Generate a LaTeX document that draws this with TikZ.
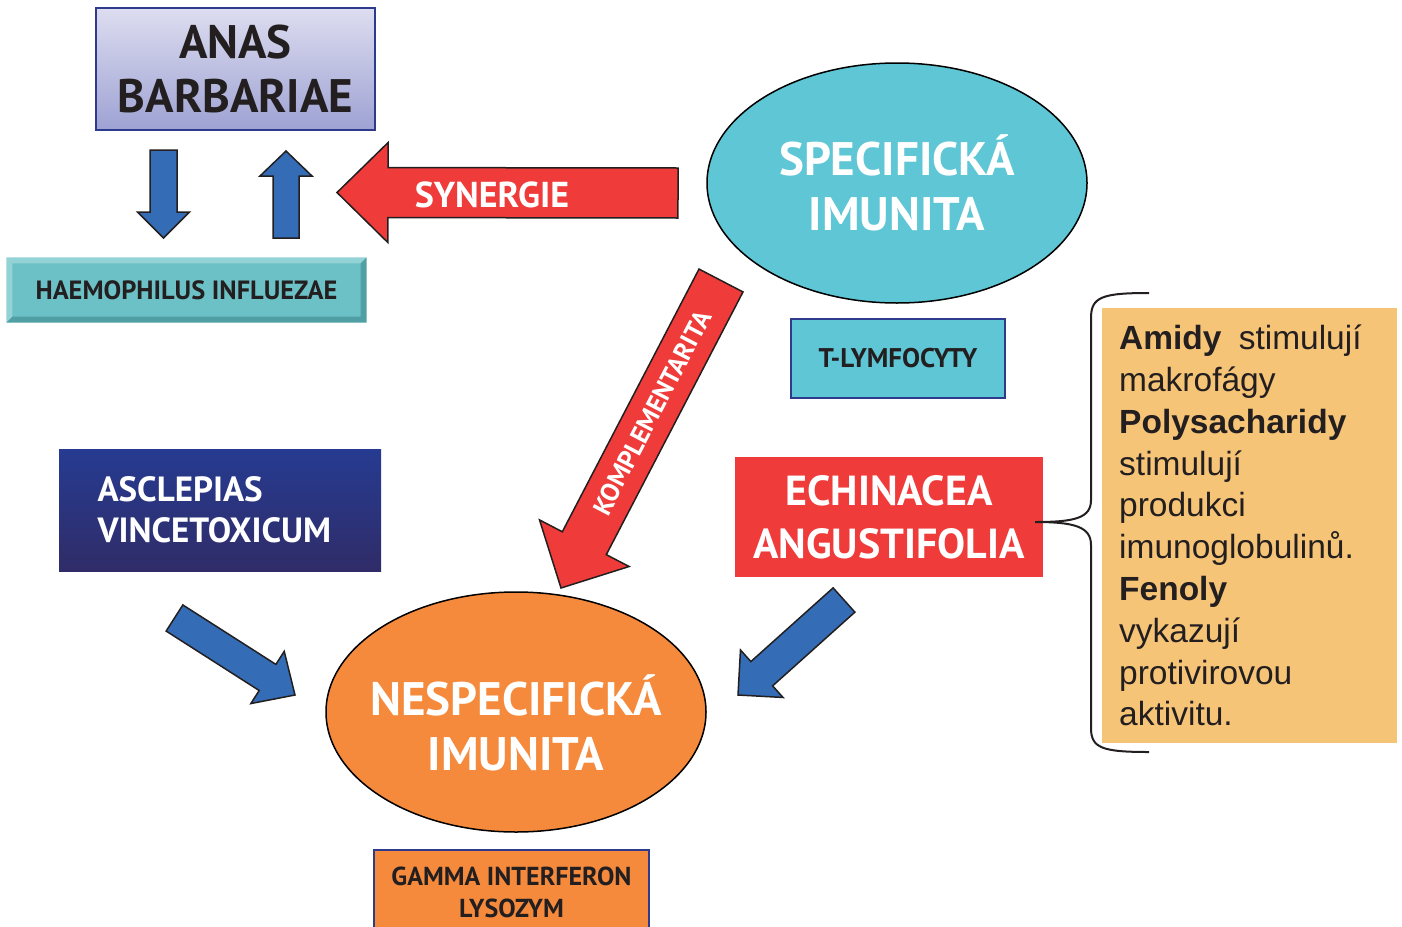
\documentclass[tikz,border=0pt]{standalone}
\usepackage{fontspec}
\setmainfont{PT Sans}
\newfontfamily\helv{Liberation Sans}
\usetikzlibrary{calc,shapes.geometric}
\definecolor{ink}{HTML}{231F20}
\definecolor{boxblue}{HTML}{2E3A8C}
\definecolor{lavtop}{HTML}{DDDDF0}
\definecolor{lavbot}{HTML}{9EA2D3}
\definecolor{haemteal}{HTML}{6CC1C6}
\definecolor{haemlight}{HTML}{93D3D6}
\definecolor{haemdark}{HTML}{4F9FA4}
\definecolor{cyanfill}{HTML}{5EC6D4}
\definecolor{redfill}{HTML}{EF3B3A}
\definecolor{orangefill}{HTML}{F58A3C}
\definecolor{paleorange}{HTML}{F6C477}
\definecolor{navytop}{HTML}{263B91}
\definecolor{navybot}{HTML}{302C68}
\definecolor{arrowblue}{HTML}{346CB5}
\tikzset{%
    plate/.style={draw=boxblue,line width=1.2pt,inner sep=0pt,align=center,text=ink},
    oval/.style={ellipse,draw=black,line width=1.5pt,inner xsep=-40pt,inner ysep=0pt,minimum width=380pt,
        minimum height=240pt,align=center,text=white,font=\bfseries\fontsize{47}{55}\selectfont},
    fatred/.style={fill=redfill,draw=ink,line width=1.5pt},
    fatblue/.style={fill=arrowblue,draw=ink,line width=1.5pt}
}
\newcommand{\fatarrow}[6]{%
    \coordinate (hb) at ($(#3)!#6!(#2)$);
    \draw[#1] ($(#2)!#4!90:(#3)$) -- ($(hb)!#4!90:(#3)$) -- ($(hb)!#5!90:(#3)$) -- (#3)
        -- ($(hb)!#5!-90:(#3)$) -- ($(hb)!#4!-90:(#3)$) -- ($(#2)!#4!-90:(#3)$) -- cycle;
}
\begin{document}
\begin{tikzpicture}[x=1pt,y=-1pt]
    \useasboundingbox (0,0) rectangle (1402,926);
    \node[plate,top color=lavtop,bottom color=lavbot,minimum width=279pt,minimum height=122pt,
        font=\bfseries\fontsize{47}{54}\selectfont] (anas) at (235.5,69) {ANAS\\BARBARIAE};
    \node[plate,fill=haemteal,draw=none,minimum width=359pt,minimum height=64pt,
        font=\bfseries\fontsize{26.4}{30}\selectfont] (haem) at (186.5,290) {HAEMOPHILUS INFLUEZAE};
    \fill[haemlight] (haem.north west) -- (haem.north east) -- ($(haem.north east)+(-6,6)$)
        -- ($(haem.north west)+(6,6)$) -- ($(haem.south west)+(6,-6)$) -- (haem.south west) -- cycle;
    \fill[haemdark] (haem.south west) -- (haem.south east) -- (haem.north east) -- ($(haem.north east)+(-6,6)$)
        -- ($(haem.south east)+(-6,-6)$) -- ($(haem.south west)+(6,-6)$) -- cycle;
    \node[oval,fill=cyanfill] (spec) at (897,183) {SPECIFICKÁ\\IMUNITA};
    \node[plate,fill=cyanfill,minimum width=214pt,minimum height=79pt,
        font=\bfseries\fontsize{27}{30}\selectfont] (tlym) at (898,358.5) {T-LYMFOCYTY};
    \node[fill=redfill,inner sep=0pt,minimum width=308pt,minimum height=120pt,align=center,text=white,
        font=\bfseries\fontsize{42}{53}\selectfont] (echi) at (889,517) {ECHINACEA\\ANGUSTIFOLIA};
    \node[top color=navytop,bottom color=navybot,inner sep=0pt,minimum width=322pt,minimum height=122pt,
        text width=245pt,align=left,text=white,font=\bfseries\fontsize{35}{41}\selectfont]
        (ascl) at (220,510) {ASCLEPIAS\\VINCETOXICUM};
    \node[oval,fill=orangefill,text height=118pt] (nesp) at (516,712) {NESPECIFICKÁ\\IMUNITA};
    \node[plate,fill=orangefill,minimum width=275pt,minimum height=84pt,
        font=\bfseries\fontsize{26}{32}\selectfont] (gamma) at (511.5,892) {GAMMA INTERFERON\\LYSOZYM};
    \node[fill=paleorange,anchor=north west,inner xsep=17pt,inner ysep=0pt,text width=261pt,
        minimum height=435pt,align=left,text=ink,font=\helv\fontsize{33.5}{41.8}\selectfont] (amid) at (1102,308)
        {\textbf{Amidy}\hspace{6pt} stimulují\\makrofágy\\\textbf{Polysacharidy}\\stimulují\\produkci\\imunoglobulinů.\\
        \textbf{Fenoly}\\vykazují\\protivirovou\\aktivitu.};

    \coordinate (downtail) at (163.5,150);
    \coordinate (downtip) at (163.5,238);
    \coordinate (uptail) at (286,238);
    \coordinate (uptip) at (286,151);
    \coordinate (syntail) at (678,193);
    \coordinate (syntip) at (337,192.5);
    \coordinate (komtail) at (721,280.5);
    \coordinate (komtip) at (561,588);
    \coordinate (asctail) at (174.5,618);
    \coordinate (asctip) at (295,695);
    \coordinate (echtail) at (844,600);
    \coordinate (echtip) at (738,695);

    \fatarrow{fatblue}{downtail}{downtip}{13.5pt}{26pt}{26pt}
    \fatarrow{fatblue}{uptail}{uptip}{13pt}{26pt}{25pt}
    \fatarrow{fatred}{syntail}{syntip}{25pt}{50pt}{51pt}
    \fatarrow{fatred}{komtail}{komtip}{24.8pt}{50.5pt}{50.5pt}
    \fatarrow{fatblue}{asctail}{asctip}{15.5pt}{31pt}{32.6pt}
    \fatarrow{fatblue}{echtail}{echtip}{16.3pt}{31.9pt}{31.9pt}

    \node[text=white,font=\bfseries\fontsize{36}{40}\selectfont] (syn) at (492,195) {SYNERGIE};
    \path (komtail) -- node[pos=0.43,sloped,text=white,font=\bfseries\fontsize{26}{30}\selectfont] (kom)
        {KOMPLEMENTARITA} (komtip);

    \coordinate (bracetip) at ($(echi.east)+(-8,5)$);
    \draw[ink,line width=2pt] (1149,293) .. controls (1102,293) and (1091,297) .. (1091,318)
        -- (1091,500) .. controls (1091,518) and (1075,522) .. (bracetip)
        .. controls (1075,522) and (1091,527) .. (1091,545)
        -- (1091,728) .. controls (1091,748) and (1102,752) .. (1149,752);
\end{tikzpicture}
\end{document}
